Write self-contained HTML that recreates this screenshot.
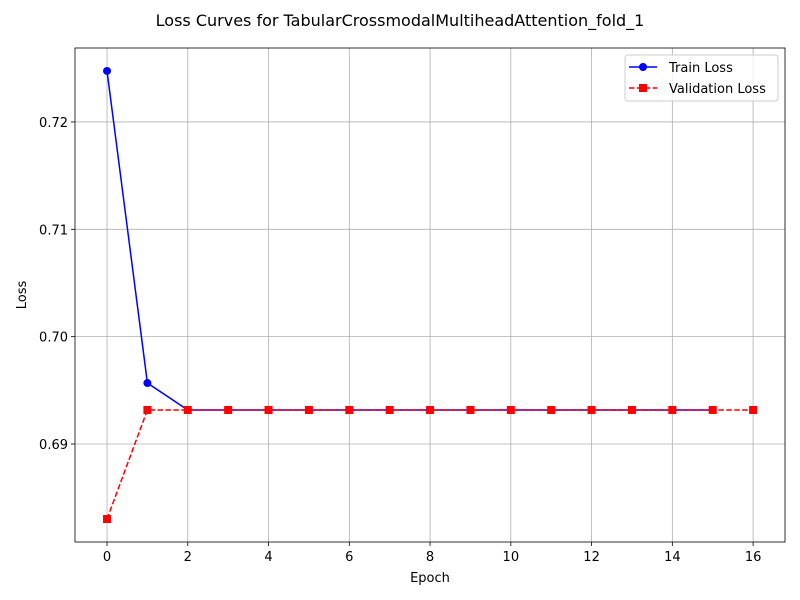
<!DOCTYPE html>
<html><head><meta charset="utf-8"><style>body{margin:0;background:#fff}svg{display:block;font-family:"DejaVu Sans","Liberation Sans",sans-serif}</style></head>
<body>
<svg id="chart" width="800" height="600"></svg>
<script>
const epochsTrain=[0,1,2,3,4,5,6,7,8,9,10,11,12,13,14,15];
const trainLoss=[0.72475,0.69568,0.69317,0.69317,0.69317,0.69317,0.69317,0.69317,0.69317,0.69317,0.69317,0.69317,0.69317,0.69317,0.69317,0.69317];
const epochsVal=[0,1,2,3,4,5,6,7,8,9,10,11,12,13,14,15,16];
const valLoss=[0.68301,0.69317,0.69317,0.69317,0.69317,0.69317,0.69317,0.69317,0.69317,0.69317,0.69317,0.69317,0.69317,0.69317,0.69317,0.69317,0.69317];
const xTicks=[0,2,4,6,8,10,12,14,16];
const yTicks=[0.69,0.70,0.71,0.72];
const yTickLabels=["0.69","0.70","0.71","0.72"];
const L=75,R=785,T=48,B=542;
const xMin=-0.793,xMax=16.79,yMin=0.68087,yMax=0.72689;
const sx=v=>L+(v-xMin)/(xMax-xMin)*(R-L);
const sy=v=>B-(v-yMin)/(yMax-yMin)*(B-T);
const svg=document.getElementById('chart');
const NS='http://www.w3.org/2000/svg';
function mk(tag,attrs,parent){const e=document.createElementNS(NS,tag);for(const k in attrs)e.setAttribute(k,attrs[k]);(parent||svg).appendChild(e);return e;}
let t=mk('text',{x:400,y:26,'text-anchor':'middle','font-size':16});t.textContent='Loss Curves for TabularCrossmodalMultiheadAttention_fold_1';


xTicks.forEach(v=>{const x=sx(v);
 let g=mk('line',{x1:x,x2:x,y1:T,y2:B,stroke:'#b0b0b0','stroke-width':0.8});
 
 
 mk('line',{x1:x,x2:x,y1:B,y2:B+4,stroke:'#000','stroke-width':0.8});
 let l=mk('text',{x:x,y:B+19,'text-anchor':'middle','font-size':13});l.textContent=v;
 
 
});
yTicks.forEach((v,i)=>{const y=sy(v);
 let g=mk('line',{x1:L,x2:R,y1:y,y2:y,stroke:'#b0b0b0','stroke-width':0.8});
 
 
 mk('line',{x1:L-4,x2:L,y1:y,y2:y,stroke:'#000','stroke-width':0.8});
 let l=mk('text',{x:L-7,y:y+5,'text-anchor':'end','font-size':13});l.textContent=yTickLabels[i];
 
 
});
let fr=mk('rect',{x:L,y:T,width:R-L,height:B-T,fill:'none',stroke:'#000','stroke-width':0.8});


let xl=mk('text',{x:(L+R)/2,y:582,'text-anchor':'middle','font-size':13});xl.textContent='Epoch';


let yl=mk('text',{x:0,y:0,'text-anchor':'middle','font-size':13,transform:`translate(26,${(T+B)/2}) rotate(-90)`});yl.textContent='Loss';


let tp=mk('polyline',{points:epochsTrain.map((e,i)=>sx(e)+','+sy(trainLoss[i])).join(' '),fill:'none',stroke:'#0000ff','stroke-width':1.5});


epochsTrain.forEach((e,i)=>{let c=mk('circle',{cx:sx(e),cy:sy(trainLoss[i]),r:4,fill:'#0000ff'});
 
 });
let vp=mk('polyline',{points:epochsVal.map((e,i)=>sx(e)+','+sy(valLoss[i])).join(' '),fill:'none',stroke:'#ff0000','stroke-width':1.5,'stroke-dasharray':'5.5,2.4'});


epochsVal.forEach((e,i)=>{let c=mk('rect',{x:sx(e)-4,y:sy(valLoss[i])-4,width:8,height:8,fill:'#ff0000'});
 
 });
let lg=mk('g',{});


mk('rect',{x:625,y:55,width:153,height:46,rx:3,fill:'#fff','fill-opacity':0.8,stroke:'#ccc'},lg);
mk('line',{x1:629,x2:657,y1:67,y2:67,stroke:'#0000ff','stroke-width':1.5},lg);
mk('circle',{cx:643,cy:67,r:4,fill:'#0000ff'},lg);
let a=mk('text',{x:669,y:72,'font-size':13},lg);a.textContent='Train Loss';


mk('line',{x1:629,x2:657,y1:88,y2:88,stroke:'#ff0000','stroke-width':1.5,'stroke-dasharray':'5.5,2.4'},lg);
mk('rect',{x:639,y:84,width:8,height:8,fill:'#ff0000'},lg);
let b=mk('text',{x:669,y:93,'font-size':13},lg);b.textContent='Validation Loss';


</script>
</body></html>
